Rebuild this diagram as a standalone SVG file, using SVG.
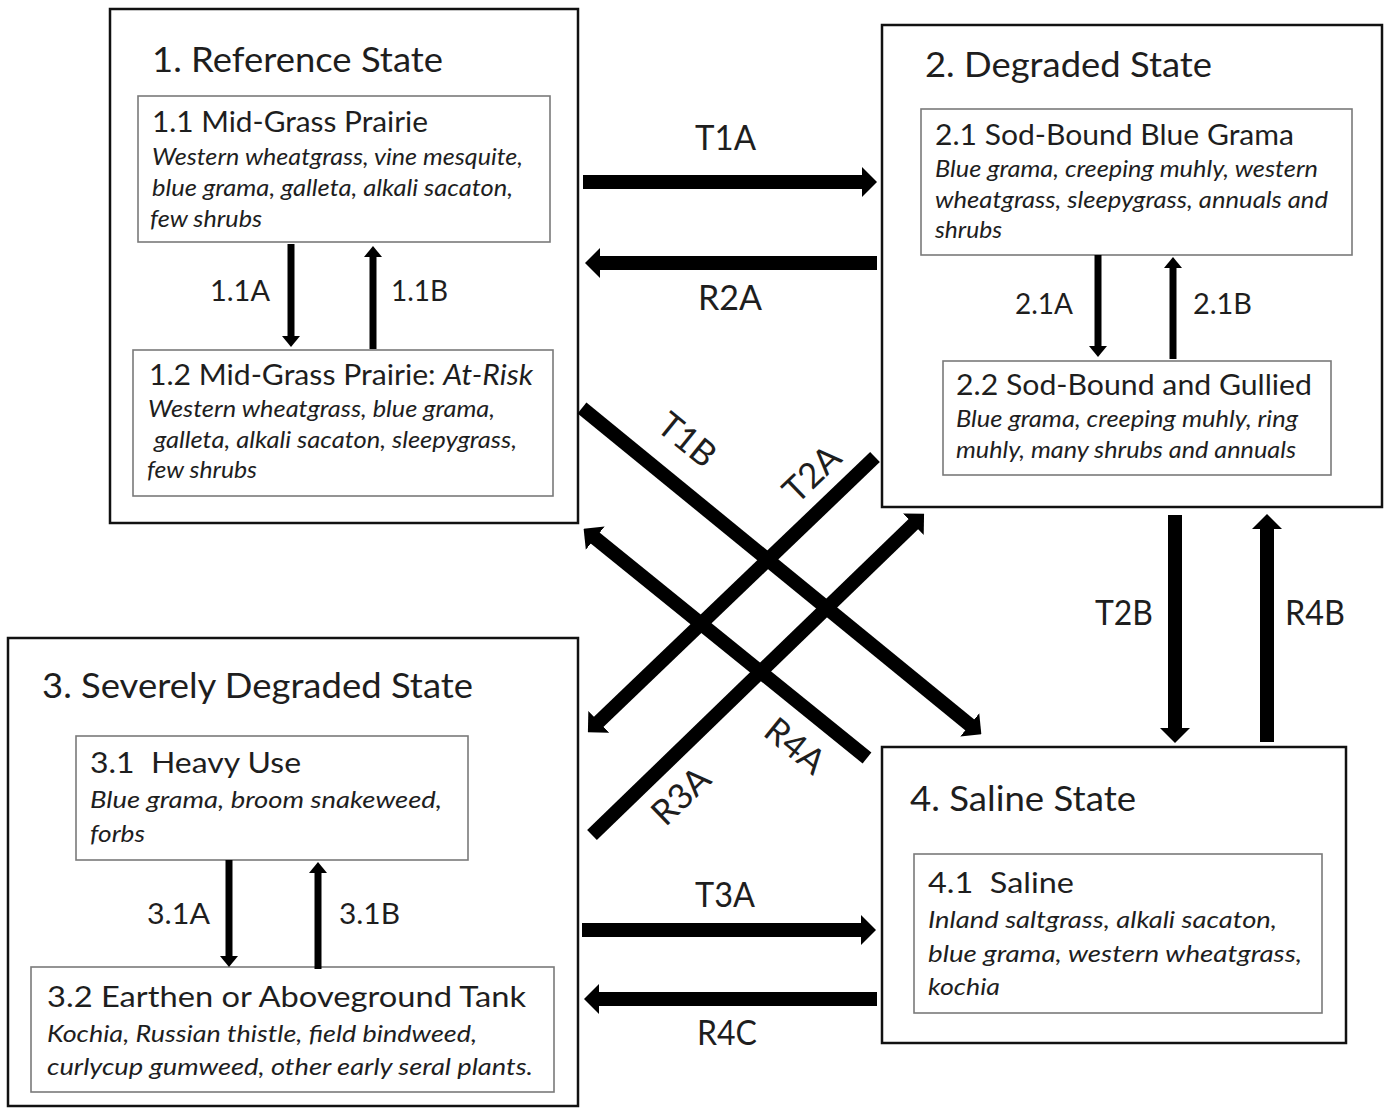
<svg xmlns="http://www.w3.org/2000/svg" width="1389" height="1108" viewBox="0 0 1389 1108">
<style>
text{font-family:Lato,"Open Sans","Liberation Sans",sans-serif;fill:#1e1e1e;white-space:pre}
.st{font-size:35px}
.sub{font-size:29px}
.sp{font-size:23px;font-style:italic}
.lbl{font-size:35px}
.sl{font-size:29px}
.outer{fill:#fff;stroke:#111;stroke-width:2.5}
.inner{fill:#fff;stroke:#7a7a7a;stroke-width:1.6}
.big{stroke:#000;stroke-width:14;fill:none;marker-end:url(#hb)}
.thin{stroke:#000;stroke-width:7;fill:none;marker-end:url(#hs)}
</style>
<defs>
<marker id="hb" markerUnits="userSpaceOnUse" viewBox="0 0 15 30" refX="1" refY="15" markerWidth="15" markerHeight="30" orient="auto">
<path d="M0,0 L15,15 L0,30 z" fill="#000"/>
</marker>
<marker id="hs" markerUnits="userSpaceOnUse" viewBox="0 0 11 18" refX="1" refY="9" markerWidth="11" markerHeight="18" orient="auto">
<path d="M0,0 L11,9 L0,18 z" fill="#000"/>
</marker>
</defs>
<rect width="1389" height="1108" fill="#fff"/>

<g id="state1">
<rect class="outer" x="110" y="9" width="468" height="514"/>
<text class="st" x="152" y="72" textLength="291" lengthAdjust="spacingAndGlyphs">1. Reference State</text>
<g id="s1_1">
<rect class="inner" x="138" y="96" width="412" height="146"/>
<text class="sub" x="152" y="132" textLength="276" lengthAdjust="spacingAndGlyphs">1.1 Mid-Grass Prairie</text>
<text class="sp" x="152" y="165" textLength="371" lengthAdjust="spacingAndGlyphs">Western wheatgrass, vine mesquite,</text>
<text class="sp" x="152" y="196" textLength="361" lengthAdjust="spacingAndGlyphs">blue grama, galleta, alkali sacaton,</text>
<text class="sp" x="150" y="227" textLength="112" lengthAdjust="spacingAndGlyphs">few shrubs</text>
</g>
<g id="s1_2">
<rect class="inner" x="133" y="350" width="420" height="146"/>
<text class="sub" x="149" y="385" textLength="384" lengthAdjust="spacingAndGlyphs">1.2 Mid-Grass Prairie: <tspan font-style="italic">At-Risk</tspan></text>
<text class="sp" x="148" y="417" textLength="347" lengthAdjust="spacingAndGlyphs">Western wheatgrass, blue grama,</text>
<text class="sp" x="154" y="448" textLength="363" lengthAdjust="spacingAndGlyphs">galleta, alkali sacaton, sleepygrass,</text>
<text class="sp" x="147" y="478" textLength="110" lengthAdjust="spacingAndGlyphs">few shrubs</text>
</g>
</g>

<g id="state2">
<rect class="outer" x="882" y="25" width="500" height="482"/>
<text class="st" x="925" y="77" textLength="287" lengthAdjust="spacingAndGlyphs">2. Degraded State</text>
<g id="s2_1">
<rect class="inner" x="921" y="109" width="431" height="146"/>
<text class="sub" x="935" y="145" textLength="359" lengthAdjust="spacingAndGlyphs">2.1 Sod-Bound Blue Grama</text>
<text class="sp" x="935" y="177" textLength="383" lengthAdjust="spacingAndGlyphs">Blue grama, creeping muhly, western</text>
<text class="sp" x="935" y="208" textLength="393" lengthAdjust="spacingAndGlyphs">wheatgrass, sleepygrass, annuals and</text>
<text class="sp" x="935" y="238" textLength="67" lengthAdjust="spacingAndGlyphs">shrubs</text>
</g>
<g id="s2_2">
<rect class="inner" x="943" y="361" width="388" height="114"/>
<text class="sub" x="956" y="395" textLength="356" lengthAdjust="spacingAndGlyphs">2.2 Sod-Bound and Gullied</text>
<text class="sp" x="956" y="427" textLength="342" lengthAdjust="spacingAndGlyphs">Blue grama, creeping muhly, ring</text>
<text class="sp" x="956" y="458" textLength="340" lengthAdjust="spacingAndGlyphs">muhly, many shrubs and annuals</text>
</g>
</g>

<g id="state3">
<rect class="outer" x="8" y="638" width="570" height="468"/>
<text class="st" x="42" y="698" textLength="431" lengthAdjust="spacingAndGlyphs">3. Severely Degraded State</text>
<g id="s3_1">
<rect class="inner" x="76" y="736" width="392" height="124"/>
<text class="sub" x="90" y="773" textLength="211" lengthAdjust="spacingAndGlyphs">3.1  Heavy Use</text>
<text class="sp" x="90" y="808" textLength="352" lengthAdjust="spacingAndGlyphs">Blue grama, broom snakeweed,</text>
<text class="sp" x="90" y="842" textLength="55" lengthAdjust="spacingAndGlyphs">forbs</text>
</g>
<g id="s3_2">
<rect class="inner" x="31" y="967" width="523" height="125"/>
<text class="sub" x="47" y="1007" textLength="479" lengthAdjust="spacingAndGlyphs">3.2 Earthen or Aboveground Tank</text>
<text class="sp" x="47" y="1042" textLength="430" lengthAdjust="spacingAndGlyphs">Kochia, Russian thistle, field bindweed,</text>
<text class="sp" x="47" y="1075" textLength="486" lengthAdjust="spacingAndGlyphs">curlycup gumweed, other early seral plants.</text>
</g>
</g>

<g id="state4">
<rect class="outer" x="882" y="747" width="464" height="296"/>
<text class="st" x="910" y="811" textLength="226" lengthAdjust="spacingAndGlyphs">4. Saline State</text>
<g id="s4_1">
<rect class="inner" x="914" y="854" width="408" height="159"/>
<text class="sub" x="928" y="893" textLength="146" lengthAdjust="spacingAndGlyphs">4.1  Saline</text>
<text class="sp" x="928" y="928" textLength="349" lengthAdjust="spacingAndGlyphs">Inland saltgrass, alkali sacaton,</text>
<text class="sp" x="928" y="962" textLength="374" lengthAdjust="spacingAndGlyphs">blue grama, western wheatgrass,</text>
<text class="sp" x="928" y="995" textLength="72" lengthAdjust="spacingAndGlyphs">kochia</text>
</g>
</g>

<g id="connectors">
<line class="thin" x1="291" y1="244" x2="291" y2="337"/>
<line class="thin" x1="373" y1="349" x2="373" y2="256"/>
<line class="thin" x1="1098" y1="255" x2="1098" y2="347"/>
<line class="thin" x1="1173" y1="359" x2="1173" y2="267"/>
<line class="thin" x1="229" y1="860" x2="229" y2="957"/>
<line class="thin" x1="318" y1="969" x2="318" y2="872"/>

<line class="big" x1="583" y1="182" x2="863" y2="182"/>
<line class="big" x1="877" y1="263" x2="599" y2="263"/>
<line class="big" x1="582" y1="930" x2="862" y2="930"/>
<line class="big" x1="877" y1="999" x2="598" y2="999"/>
<line class="big" x1="1175" y1="515" x2="1175" y2="729"/>
<line class="big" x1="1267" y1="742" x2="1267" y2="528"/>

<line class="big" x1="582" y1="408" x2="970.5" y2="725.5"/>
<line class="big" x1="875" y1="457" x2="598" y2="722.5"/>
<line class="big" x1="867" y1="758" x2="594.5" y2="537.5"/>
<line class="big" x1="592" y1="835" x2="914" y2="523.5"/>

<text class="lbl" x="695" y="150" textLength="61" lengthAdjust="spacingAndGlyphs">T1A</text>
<text class="lbl" x="698" y="310" textLength="64" lengthAdjust="spacingAndGlyphs">R2A</text>
<text class="lbl" x="695" y="907" textLength="60" lengthAdjust="spacingAndGlyphs">T3A</text>
<text class="lbl" x="697" y="1045" textLength="60" lengthAdjust="spacingAndGlyphs">R4C</text>
<text class="lbl" x="1095" y="625" textLength="58" lengthAdjust="spacingAndGlyphs">T2B</text>
<text class="lbl" x="1285" y="625" textLength="60" lengthAdjust="spacingAndGlyphs">R4B</text>
<text class="sl" x="210" y="301" textLength="60" lengthAdjust="spacingAndGlyphs">1.1A</text>
<text class="sl" x="391" y="301" textLength="57" lengthAdjust="spacingAndGlyphs">1.1B</text>
<text class="sl" x="1015" y="314" textLength="58" lengthAdjust="spacingAndGlyphs">2.1A</text>
<text class="sl" x="1193" y="314" textLength="59" lengthAdjust="spacingAndGlyphs">2.1B</text>
<text class="sl" x="147" y="924" textLength="63" lengthAdjust="spacingAndGlyphs">3.1A</text>
<text class="sl" x="339" y="924" textLength="61" lengthAdjust="spacingAndGlyphs">3.1B</text>
<text class="lbl" transform="translate(687,440) rotate(39)" x="0" y="12" text-anchor="middle">T1B</text>
<text class="lbl" transform="translate(812,474) rotate(-44)" x="0" y="12" text-anchor="middle">T2A</text>
<text class="lbl" transform="translate(795,746) rotate(39)" x="0" y="12" text-anchor="middle">R4A</text>
<text class="lbl" transform="translate(681,796) rotate(-44)" x="0" y="12" text-anchor="middle">R3A</text>
</g>
</svg>
